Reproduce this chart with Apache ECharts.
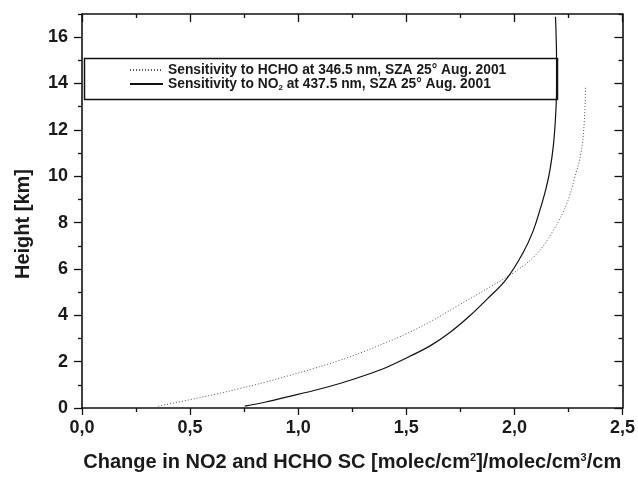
<!DOCTYPE html>
<html>
<head>
<meta charset="utf-8">
<script src="https://cdn.jsdelivr.net/npm/echarts@6/dist/echarts.min.js"></script>
<style>html,body{margin:0;padding:0;background:#fff}#c{width:638px;height:477px}</style>
</head>
<body>
<div id="c"></div>
<script>
// Data
const hchoX = [0.353, 0.50, 0.62, 0.73, 0.85, 0.95, 1.07, 1.19, 1.30, 1.40, 1.50, 1.61, 1.732, 1.885, 2.009, 2.101, 2.178, 2.24, 2.278, 2.309, 2.324, 2.329];
const hchoY = [0.08, 0.36, 0.60, 0.84, 1.12, 1.38, 1.70, 2.05, 2.42, 2.80, 3.20, 3.72, 4.38, 5.21, 5.92, 6.63, 7.63, 8.77, 9.91, 11.05, 12.47, 13.89];
const no2X = [0.753, 0.85, 0.96, 1.10, 1.20, 1.30, 1.41, 1.51, 1.61, 1.70, 1.79, 1.876, 1.962, 2.04, 2.085, 2.12, 2.147, 2.165, 2.18, 2.19, 2.195, 2.195, 2.19];
const no2Y = [0.08, 0.26, 0.50, 0.82, 1.08, 1.38, 1.76, 2.20, 2.68, 3.25, 3.95, 4.72, 5.55, 6.70, 7.60, 8.60, 9.50, 10.30, 11.30, 12.50, 13.80, 15.00, 16.88];
const seriesNames = ['Sensitivity to HCHO at 346.5 nm, SZA 25° Aug. 2001', 'Sensitivity to NO2 at 437.5 nm, SZA 25° Aug. 2001'];
const xMajor = [0, 0.5, 1.0, 1.5, 2.0, 2.5];
const xMinor = [0.25, 0.75, 1.25, 1.75, 2.25];
const yMajor = [0, 2, 4, 6, 8, 10, 12, 14, 16];
const yMinor = [1, 3, 5, 7, 9, 11, 13, 15, 17];
const xRange = [0, 2.5];
const yRange = [0, 17];
const xTitle = 'Change in NO2 and HCHO SC [molec/cm{sup|2}]/molec/cm{sup|3}/cm';
const yTitle = 'Height [km]';

const pair = (xs, ys) => xs.map((v, i) => [v, ys[i]]);
const font = '"Liberation Sans", Arial, sans-serif';
const lineCol = '#111';
const textCol = '#1a1a1a';

function xAx(pos, vals, len, inside, showLine, showLabel) {
  return {
    type: 'value', position: pos, min: xRange[0], max: xRange[1],
    axisLine: { show: showLine, onZero: false, lineStyle: { color: lineCol, width: 1.6 } },
    axisTick: { show: true, customValues: vals, length: len, inside: inside, lineStyle: { color: lineCol, width: 1.3 } },
    axisLabel: { show: showLabel, customValues: vals, margin: 11, fontFamily: font, fontWeight: 'bold', fontSize: 18, color: textCol,
      formatter: v => v.toFixed(1).replace('.', ',') },
    splitLine: { show: false }
  };
}
function yAx(pos, vals, len, inside, showLine, showLabel) {
  return {
    type: 'value', position: pos, min: yRange[0], max: yRange[1],
    axisLine: { show: showLine, onZero: false, lineStyle: { color: lineCol, width: 1.6 } },
    axisTick: { show: true, customValues: vals, length: len, inside: inside, lineStyle: { color: lineCol, width: 1.3 } },
    axisLabel: { show: showLabel, customValues: vals, margin: 14, fontFamily: font, fontWeight: 'bold', fontSize: 18, color: textCol },
    splitLine: { show: false }
  };
}

const xMain = xAx('bottom', xMajor, 7, false, true, true);
xMain.name = xTitle;
xMain.nameLocation = 'middle';
xMain.nameGap = 44;
xMain.nameTextStyle = { fontFamily: font, fontWeight: 'bold', fontSize: 20, color: textCol,
  rich: { sup: { fontFamily: font, fontWeight: 'bold', fontSize: 11, color: textCol, verticalAlign: 'top', padding: [0, 0, 9, 0] } } };

const yMain = yAx('left', yMajor, 8, false, true, true);
yMain.name = yTitle;
yMain.nameLocation = 'middle';
yMain.nameGap = 49;
yMain.nameTextStyle = { fontFamily: font, fontWeight: 'bold', fontSize: 20, color: textCol, padding: [0, 26, 0, 0] };

const chart = echarts.init(document.getElementById('c'), null, { renderer: 'canvas' });
chart.setOption({
  animation: false,
  backgroundColor: '#fff',
  grid: { left: 82, right: 15, top: 14, bottom: 65 },
  xAxis: [
    xMain,
    xAx('bottom', xMinor, 4, false, false, false),
    xAx('top', xMajor, 8, true, true, false),
    xAx('top', xMinor, 4, true, false, false)
  ],
  yAxis: [
    yMain,
    yAx('left', yMinor, 4, false, false, false),
    yAx('right', yMajor, 8, true, true, false),
    yAx('right', yMinor, 4, true, false, false)
  ],
  legend: {
    orient: 'vertical', left: 124, top: 58, itemGap: 0, itemWidth: 33, itemHeight: 14,
    padding: 5,
    itemStyle: { opacity: 0 },
    textStyle: { fontFamily: font, fontWeight: 'bold', fontSize: 13.8, color: textCol,
      rich: { sub: { fontFamily: font, fontWeight: 'bold', fontSize: 8, color: textCol, verticalAlign: 'bottom', padding: [8, 0, 0, 0] } } },
    formatter: n => n.replace('NO2', 'NO{sub|2}'),
    data: seriesNames
  },
  graphic: [{
    type: 'rect', left: 82, top: 56, z: 1,
    shape: { width: 473, height: 41 },
    style: { fill: 'none', stroke: '#111', lineWidth: 1.5 }
  }],
  series: [
    { name: seriesNames[0], type: 'line', xAxisIndex: 0, yAxisIndex: 0, data: pair(hchoX, hchoY),
      smooth: 0.4, symbol: 'none', lineStyle: { color: '#555', width: 1, type: [1, 2] }, itemStyle: { color: '#555' } },
    { name: seriesNames[1], type: 'line', xAxisIndex: 0, yAxisIndex: 0, data: pair(no2X, no2Y),
      smooth: 0.4, symbol: 'none', lineStyle: { color: '#111', width: 1.2, type: 'solid' }, itemStyle: { color: '#111' } }
  ]
});
</script>
</body>
</html>
